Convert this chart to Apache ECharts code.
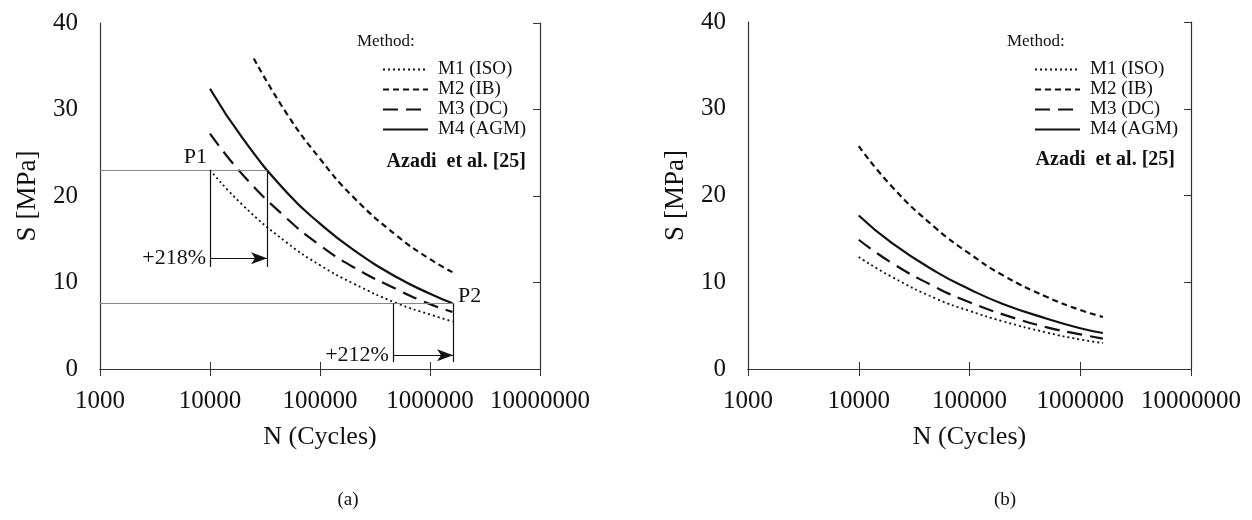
<!DOCTYPE html>
<html>
<head>
<meta charset="utf-8">
<script src="https://cdn.jsdelivr.net/npm/echarts@6/dist/echarts.min.js"></script>
<style>
  html, body { margin: 0; padding: 0; background: #fff; }
  #main { width: 1252px; height: 520px; }
</style>
</head>
<body>
<div id="main"></div>
<script>
// cycles where curves were read
var cycles = [10000, 20000, 50000, 100000, 200000, 500000, 1000000, 1600000];
var cyclesIB = [25000, 50000, 100000, 200000, 500000, 1000000, 1600000];

// panel (a)
var m1A = [23.0, 18.9, 14.6, 12.0, 9.9, 7.6, 6.3, 5.5];
var m2A = [35.9, 29.5, 24.3, 19.9, 15.4, 12.7, 11.2];
var m3A = [27.2, 22.4, 17.4, 14.3, 11.8, 9.2, 7.5, 6.6];
var m4A = [32.4, 26.6, 20.4, 16.8, 13.8, 10.6, 8.7, 7.6];

// panel (b)
var m1B = [12.9, 10.6, 8.1, 6.7, 5.5, 4.2, 3.4, 3.0];
var m2B = [25.7, 21.0, 16.2, 13.3, 10.8, 8.3, 6.8, 6.0];
var m3B = [14.9, 12.2, 9.4, 7.7, 6.3, 4.8, 4.0, 3.5];
var m4B = [17.7, 14.5, 11.2, 9.2, 7.5, 5.8, 4.7, 4.15];

var names = ['M1 (ISO)', 'M2 (IB)', 'M3 (DC)', 'M4 (AGM)'];

// annotation points in panel (a): [cycles, MPa]
var p1 = [10000, 23];
var p1Right = 33000;
var p1Bottom = 11.8;
var p1ArrowY = 12.8;
var p2 = [1620000, 7.6];
var p2Left = 460000;
var p2Bottom = 0.8;
var p2ArrowY = 1.6;

var serif = 'Liberation Serif';

function pairs(xs, ys) {
    return xs.map(function (x, i) { return [x, ys[i]]; });
}

var styles = [
    { type: [2, 3], width: 1.8 },
    { type: [6, 4], width: 2.2 },
    { type: [15, 8], width: 2.2 },
    { type: 'solid', width: 2.2 }
];

function curve(name, data, idx, st) {
    return {
        name: name,
        type: 'line',
        xAxisIndex: idx,
        yAxisIndex: idx,
        data: data,
        smooth: true,
        symbol: 'none',
        silent: true,
        lineStyle: { color: '#111', width: st.width, type: st.type },
        itemStyle: { color: '#111' }
    };
}

function xAxes(grid) {
    return [{
        gridIndex: grid,
        type: 'log',
        logBase: 10,
        min: 1000,
        max: 10000000,
        position: 'bottom',
        name: 'N (Cycles)',
        nameLocation: 'middle',
        nameGap: 55,
        nameTextStyle: { fontFamily: serif, fontSize: 26, color: '#111' },
        axisLine: { lineStyle: { color: '#333', width: 1.2 } },
        axisTick: { inside: true, length: 7, lineStyle: { color: '#333' } },
        minorTick: { show: false },
        splitLine: { show: false },
        axisLabel: {
            margin: 20,
            fontFamily: serif,
            fontSize: 25,
            color: '#111',
            formatter: function (v) { return String(Math.round(v)); }
        }
    }, {
        gridIndex: grid,
        type: 'log',
        logBase: 10,
        min: 1000,
        max: 10000000,
        position: 'top',
        axisLine: { lineStyle: { color: '#333', width: 1.2 } },
        axisTick: { inside: true, length: 7, lineStyle: { color: '#333' } },
        axisLabel: { show: false },
        splitLine: { show: false }
    }];
}

function yAxes(grid) {
    return [{
        gridIndex: grid,
        type: 'value',
        min: 0,
        max: 40,
        interval: 10,
        position: 'left',
        name: 'S [MPa]',
        nameLocation: 'middle',
        nameGap: 59,
        nameTextStyle: { fontFamily: serif, fontSize: 27, color: '#111' },
        axisLine: { show: true, lineStyle: { color: '#333', width: 1.2 } },
        axisTick: { show: false },
        splitLine: { show: false },
        axisLabel: { margin: 22, fontFamily: serif, fontSize: 25, color: '#111' }
    }, {
        gridIndex: grid,
        type: 'value',
        min: 0,
        max: 40,
        interval: 10,
        position: 'right',
        axisLine: { show: true, lineStyle: { color: '#333', width: 1.2 } },
        axisTick: { show: true, inside: true, length: 7, lineStyle: { color: '#333' } },
        axisLabel: { show: false },
        splitLine: { show: false }
    }];
}

function seg(a, b, color, arrow) {
    return [
        { coord: a, symbol: 'none', lineStyle: { color: color, width: 1.2, type: 'solid' } },
        { coord: b, symbol: arrow ? 'arrow' : 'none', symbolSize: [9, 16] }
    ];
}

var annotLines = [
    seg([1000, p1[1]], [p1Right, p1[1]], '#888', false),
    seg([p1[0], p1[1]], [p1[0], p1Bottom], '#111', false),
    seg([p1Right, p1[1]], [p1Right, p1Bottom], '#111', false),
    seg([p1[0], p1ArrowY], [p1Right, p1ArrowY], '#111', true),
    seg([1000, p2[1]], [p2[0], p2[1]], '#888', false),
    seg([p2Left, p2[1]], [p2Left, p2Bottom], '#111', false),
    seg([p2[0], p2[1]], [p2[0], p2Bottom], '#111', false),
    seg([p2Left, p2ArrowY], [p2[0], p2ArrowY], '#111', true)
];

var labelStyle = { fontFamily: serif, fontSize: 22, color: '#111' };

var annotPoints = [
    { name: 'P1', coord: p1, label: Object.assign({ position: 'left', distance: 3, offset: [0, -13] }, labelStyle) },
    { name: '+218%', coord: [p1[0], p1ArrowY], label: Object.assign({ position: 'left', distance: 4 }, labelStyle) },
    { name: 'P2', coord: p2, label: Object.assign({ position: 'right', distance: 5, offset: [0, -7] }, labelStyle) },
    { name: '+212%', coord: [p2Left, p2ArrowY], label: Object.assign({ position: 'left', distance: 4 }, labelStyle) }
];

var seriesList = [
    curve(names[0], pairs(cycles, m1A), 0, styles[0]),
    curve(names[1], pairs(cyclesIB, m2A), 0, styles[1]),
    curve(names[2], pairs(cycles, m3A), 0, styles[2]),
    curve(names[3], pairs(cycles, m4A), 0, styles[3]),
    curve(names[0], pairs(cycles, m1B), 2, styles[0]),
    curve(names[1], pairs(cycles, m2B), 2, styles[1]),
    curve(names[2], pairs(cycles, m3B), 2, styles[2]),
    curve(names[3], pairs(cycles, m4B), 2, styles[3])
];

seriesList[3].markLine = {
    silent: true,
    animation: false,
    symbol: ['none', 'none'],
    label: { show: false },
    data: annotLines
};
seriesList[3].markPoint = {
    silent: true,
    animation: false,
    symbol: 'circle',
    symbolSize: 0,
    label: { show: true, formatter: '{b}' },
    data: annotPoints
};

function legend(left) {
    return {
        data: names,
        orient: 'vertical',
        left: left,
        top: 55,
        itemWidth: 45,
        itemHeight: 14,
        itemGap: 1,
        selectedMode: false,
        itemStyle: { opacity: 0 },
        textStyle: { fontFamily: serif, fontSize: 19, color: '#111', padding: [0, 0, 0, 5] }
    };
}

function txt(x, y, text, font, align) {
    return {
        type: 'text',
        x: x,
        y: y,
        silent: true,
        style: {
            text: text,
            font: font,
            fill: '#111',
            textAlign: align,
            textVerticalAlign: 'middle'
        }
    };
}

var Mychart = echarts.init(document.getElementById('main'), null, { renderer: 'canvas' });

var option = {
    backgroundColor: '#fff',
    animation: false,
    grid: [
        { left: 100, top: 23, width: 440, height: 346 },
        { left: 748, top: 22, width: 443, height: 347 }
    ],
    xAxis: xAxes(0).concat(xAxes(1)),
    yAxis: yAxes(0).concat(yAxes(1)),
    legend: [legend(377), legend(1029)],
    graphic: [
        txt(357, 42, 'Method:', '17px "Liberation Serif"', 'left'),
        txt(1007, 42, 'Method:', '17px "Liberation Serif"', 'left'),
        txt(526, 162, 'Azadi  et al. [25]', 'bold 20px "Liberation Serif"', 'right'),
        txt(1175, 160, 'Azadi  et al. [25]', 'bold 20px "Liberation Serif"', 'right'),
        txt(348, 500, '(a)', '19px "Liberation Serif"', 'center'),
        txt(1005, 500, '(b)', '19px "Liberation Serif"', 'center')
    ],
    series: seriesList
};

Mychart.setOption(option);
</script>
</body>
</html>
